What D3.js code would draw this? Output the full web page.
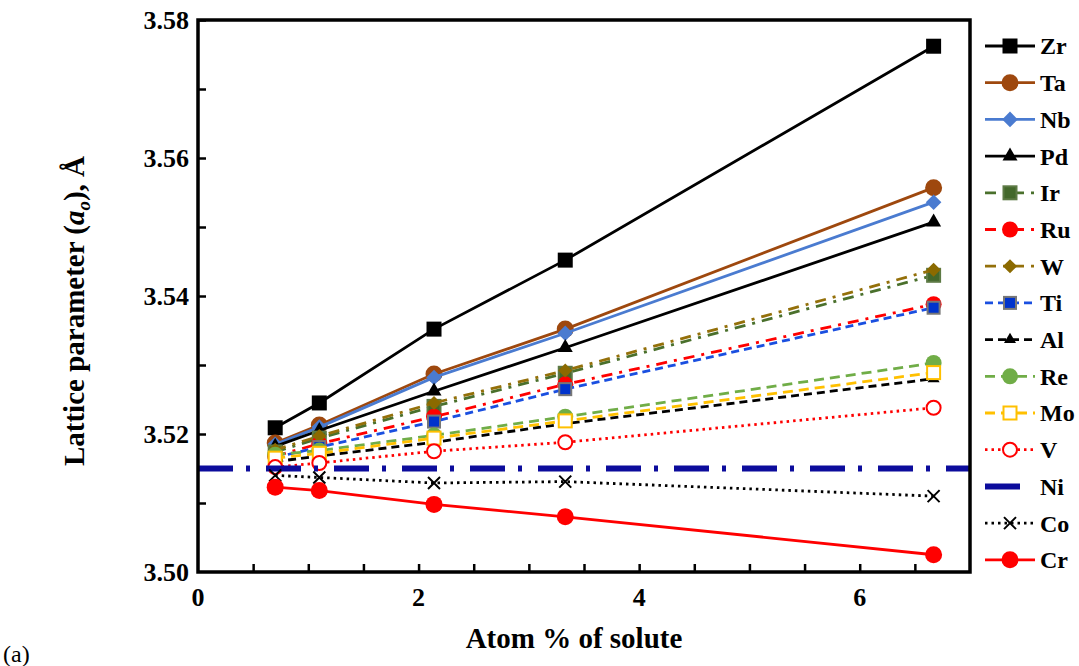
<!DOCTYPE html>
<html>
<head>
<meta charset="utf-8">
<script src="https://cdn.jsdelivr.net/npm/d3@7"></script>
<style>
  body { margin: 0; background: #fff; }
  svg { display: block; }
  text { font-family: "Liberation Serif", "Times New Roman", Times, serif; }
</style>
</head>
<body>
<div id="chart-area"></div>
<script>
// atom % of solute (x positions of the computed points)
var atomPct = [0.7, 1.1, 2.14, 3.33, 6.67];

// lattice parameter (Å) for each solute
var Zr = [3.5209, 3.5245, 3.5352, 3.5452, 3.5762];
var Ta = [3.5187, 3.5213, 3.5287, 3.5352, 3.5557];
var Nb = [3.5185, 3.5210, 3.5282, 3.5346, 3.5536];
var Pd = [3.5182, 3.5205, 3.5262, 3.5325, 3.5507];
var Ir = [3.5174, 3.5194, 3.5240, 3.5288, 3.5430];
var Ru = [3.5168, 3.5186, 3.5225, 3.5272, 3.5388];
var W  = [3.5177, 3.5197, 3.5245, 3.5292, 3.5438];
var Ti = [3.5166, 3.5181, 3.5218, 3.5265, 3.5383];
var Al = [3.5160, 3.5168, 3.5188, 3.5215, 3.5280];
var Re = [3.5170, 3.5176, 3.5198, 3.5225, 3.5303];
var Mo = [3.5165, 3.5172, 3.5194, 3.5219, 3.5289];
var V  = [3.5152, 3.5158, 3.5175, 3.5188, 3.5238];
var Co = [3.5140, 3.5137, 3.5129, 3.5131, 3.5110];
var Cr = [3.5123, 3.5118, 3.5098, 3.5080, 3.5025];

// pure Ni reference line
var niX = [0, 7];
var Ni = [3.515, 3.515];

var elements = ["Zr", "Ta", "Nb", "Pd", "Ir", "Ru", "W", "Ti", "Al", "Re", "Mo", "V", "Ni", "Co", "Cr"];
var values = { Zr: Zr, Ta: Ta, Nb: Nb, Pd: Pd, Ir: Ir, Ru: Ru, W: W, Ti: Ti, Al: Al, Re: Re, Mo: Mo, V: V, Ni: Ni, Co: Co, Cr: Cr };

var xTicks = [0, 2, 4, 6];
var yTicks = [3.50, 3.52, 3.54, 3.56, 3.58];

// line + marker style for each series
var styles = {
    Zr: { color: "#000", dash: null, shape: "square", size: 15, fill: "#000" },
    Ta: { color: "#9e480e", dash: null, shape: "circle", size: 8.5, fill: "#9e480e" },
    Nb: { color: "#4a7bd0", dash: null, shape: "diamond", size: 11, fill: "#4a7bd0" },
    Pd: { color: "#000", dash: null, shape: "triangle", size: 15, fill: "#000" },
    Ir: { color: "#4a702c", dash: "11,7,3,7", shape: "square", size: 13, fill: "#43682b", stroke: "#5d7a45" },
    Ru: { color: "#ff0000", dash: "11,7,3,7", shape: "circle", size: 8, fill: "#ff0000" },
    W:  { color: "#94700a", dash: "11,7,3,7", shape: "diamond", size: 10, fill: "#8b6a00" },
    Ti: { color: "#1a4fe0", dash: "8,5", shape: "square", size: 12, fill: "#0033cc", stroke: "#777" },
    Al: { color: "#000", dash: "8,5", shape: "triangle", size: 12, fill: "#000" },
    Re: { color: "#70ad47", dash: "10,6", shape: "circle", size: 8, fill: "#70ad47" },
    Mo: { color: "#ffc000", dash: "10,6", shape: "square", size: 13, fill: "#fff", stroke: "#ffc000" },
    V:  { color: "#ff0000", dash: "2.5,4", shape: "circle", size: 7, fill: "#fff", stroke: "#ff0000" },
    Ni: { color: "#0c0c9c", dash: "35,13,4,16", shape: null, width: 6 },
    Co: { color: "#000", dash: "2.5,4", shape: "cross", size: 12 },
    Cr: { color: "#ff0000", dash: null, shape: "circle", size: 8.5, fill: "#ff0000" }
};

var W_ = 1079, H_ = 666;
var plot = { left: 198, right: 970, top: 20, bottom: 572 };

var svg = d3.select("#chart-area").append("svg")
    .attr("width", W_)
    .attr("height", H_);

var x = d3.scaleLinear().domain([0, 7]).range([plot.left, plot.right]);
var y = d3.scaleLinear().domain([3.50, 3.58]).range([plot.bottom, plot.top]);

// minor ticks, pointing inward
var xAxisCall = d3.axisTop(x)
    .tickValues(d3.range(0.5, 7, 0.5))
    .tickSize(8)
    .tickFormat("");
svg.append("g")
    .attr("transform", "translate(0," + plot.bottom + ")")
    .call(xAxisCall)
    .call(function (g) { g.select(".domain").remove(); })
    .selectAll("line").attr("stroke", "#000").attr("stroke-width", 2.5);

var yAxisCall = d3.axisRight(y)
    .tickValues(d3.range(3.51, 3.58, 0.01))
    .tickSize(8)
    .tickFormat("");
svg.append("g")
    .attr("transform", "translate(" + plot.left + ",0)")
    .call(yAxisCall)
    .call(function (g) { g.select(".domain").remove(); })
    .selectAll("line").attr("stroke", "#000").attr("stroke-width", 2.5);

// tick labels
svg.selectAll(".xlab").data(xTicks).enter().append("text")
    .attr("class", "xlab")
    .attr("x", function (d) { return x(d); })
    .attr("y", 606)
    .attr("text-anchor", "middle")
    .attr("font-size", "26px")
    .attr("font-weight", "bold")
    .text(function (d) { return d; });

svg.selectAll(".ylab").data(yTicks).enter().append("text")
    .attr("class", "ylab")
    .attr("x", 189)
    .attr("y", function (d) { return y(d); })
    .attr("dy", "0.35em")
    .attr("text-anchor", "end")
    .attr("font-size", "26px")
    .attr("font-weight", "bold")
    .text(function (d) { return d3.format(".2f")(d); });

// axis titles
svg.append("text")
    .attr("x", (plot.left + plot.right) / 2 - 10)
    .attr("y", 648)
    .attr("text-anchor", "middle")
    .attr("font-size", "29px")
    .attr("font-weight", "bold")
    .text("Atom % of solute");

var yTitle = svg.append("text")
    .attr("transform", "translate(84," + ((plot.top + plot.bottom) / 2 + 15) + ") rotate(-90)")
    .attr("text-anchor", "middle")
    .attr("font-size", "29px")
    .attr("font-weight", "bold");
yTitle.append("tspan").text("Lattice parameter (");
yTitle.append("tspan").attr("font-style", "italic").text("a");
yTitle.append("tspan").attr("font-style", "italic").attr("font-size", "19px").attr("dy", "6").text("o");
yTitle.append("tspan").attr("dy", "-6").text("), Å");

svg.append("text")
    .attr("x", 3)
    .attr("y", 662)
    .attr("font-size", "24px")
    .text("(a)");

// marker drawing
function drawMarker(g, st) {
    if (!st.shape) return;
    var sw = st.stroke ? 2 : 0;
    if (st.shape === "circle") {
        g.append("circle").attr("r", st.size)
            .attr("fill", st.fill).attr("stroke", st.stroke || "none").attr("stroke-width", sw);
    } else if (st.shape === "square") {
        g.append("rect").attr("x", -st.size / 2).attr("y", -st.size / 2)
            .attr("width", st.size).attr("height", st.size)
            .attr("fill", st.fill).attr("stroke", st.stroke || "none").attr("stroke-width", sw);
    } else if (st.shape === "diamond") {
        g.append("rect").attr("x", -st.size / 2).attr("y", -st.size / 2)
            .attr("width", st.size).attr("height", st.size)
            .attr("transform", "rotate(45)")
            .attr("fill", st.fill);
    } else if (st.shape === "triangle") {
        var s = st.size, h = s * Math.sqrt(3) / 2;
        g.append("path")
            .attr("d", "M0," + (-h * 2 / 3) + "L" + (s / 2) + "," + (h / 3) + "L" + (-s / 2) + "," + (h / 3) + "Z")
            .attr("fill", st.fill);
    } else if (st.shape === "cross") {
        var c = st.size / 2;
        g.append("path")
            .attr("d", "M" + -c + "," + -c + "L" + c + "," + c + "M" + -c + "," + c + "L" + c + "," + -c)
            .attr("stroke", st.color).attr("stroke-width", 2).attr("fill", "none");
    }
}

var line = d3.line()
    .x(function (d) { return x(d[0]); })
    .y(function (d) { return y(d[1]); });

var plotArea = svg.append("g");

elements.forEach(function (el) {
    var st = styles[el];
    var xs = el === "Ni" ? niX : atomPct;
    var pts = values[el].map(function (v, i) { return [xs[i], v]; });

    plotArea.append("path")
        .datum(pts)
        .attr("d", line)
        .attr("fill", "none")
        .attr("stroke", st.color)
        .attr("stroke-width", st.width || 2.8)
        .attr("stroke-dasharray", st.dash);

    if (st.shape) {
        pts.forEach(function (p) {
            var m = plotArea.append("g")
                .attr("transform", "translate(" + x(p[0]) + "," + y(p[1]) + ")");
            drawMarker(m, st);
        });
    }
});

// frame
svg.append("rect")
    .attr("x", plot.left)
    .attr("y", plot.top)
    .attr("width", plot.right - plot.left)
    .attr("height", plot.bottom - plot.top)
    .attr("fill", "none")
    .attr("stroke", "#000")
    .attr("stroke-width", 3.5);

// legend
var legend = svg.append("g");
elements.forEach(function (el, i) {
    var st = styles[el];
    var row = legend.append("g")
        .attr("transform", "translate(0," + (46 + i * 36.7) + ")");
    row.append("line")
        .attr("x1", 985).attr("x2", el === "Ni" ? 1020 : 1035)
        .attr("stroke", st.color)
        .attr("stroke-width", st.width || 2.8)
        .attr("stroke-dasharray", el === "Ni" ? null : st.dash);
    var m = row.append("g").attr("transform", "translate(1010,0)");
    drawMarker(m, st);
    row.append("text")
        .attr("x", 1040)
        .attr("dy", "0.35em")
        .attr("font-size", "24px")
        .attr("font-weight", "bold")
        .text(el);
});
</script>
</body>
</html>
